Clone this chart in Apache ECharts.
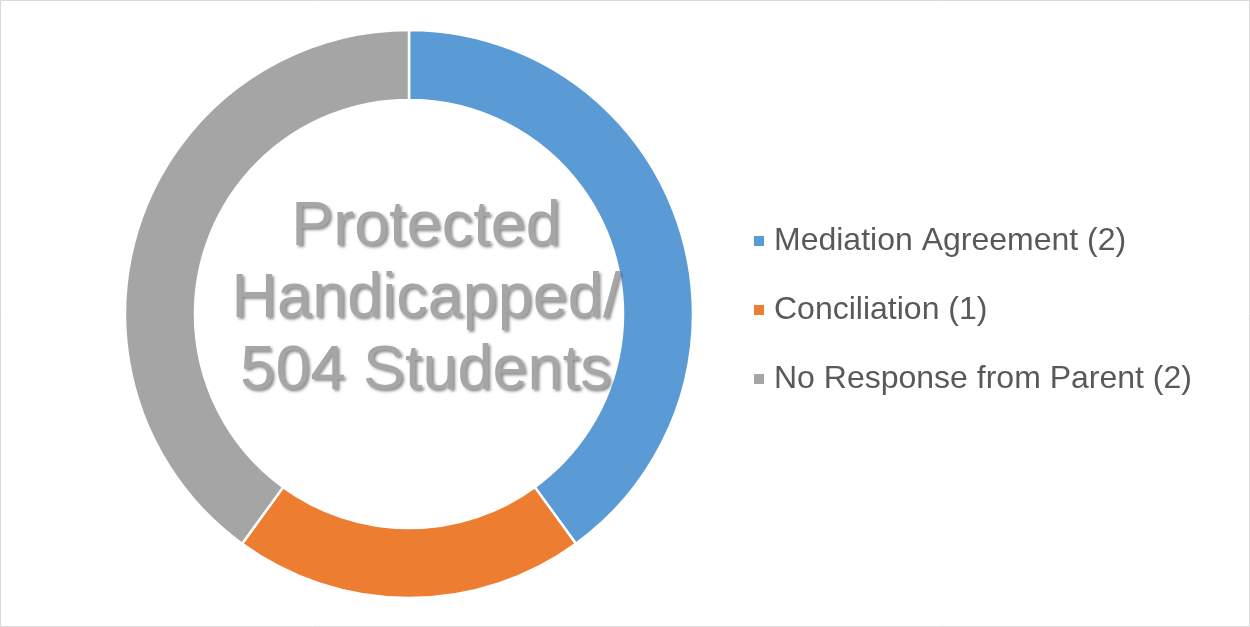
<!DOCTYPE html>
<html>
<head>
<meta charset="utf-8">
<script src="https://cdn.jsdelivr.net/npm/echarts@6/dist/echarts.min.js"></script>
<style>
  html, body { margin: 0; padding: 0; background: #fff; }
  #chart { width: 1250px; height: 627px; }
</style>
</head>
<body>
<div id="chart"></div>
<script>
// slice names and counts
var categories = ["Mediation Agreement (2)", "Conciliation (1)", "No Response from Parent (2)"];
var counts = [2, 1, 2];
var sliceColors = ["#5b9bd5", "#ed7d31", "#a5a5a5"];
var centerLabel = "Protected\nHandicapped/\n504 Students";

var chart = echarts.init(document.getElementById("chart"));

chart.setOption({
  animation: false,
  backgroundColor: "#fff",
  legend: {
    orient: "vertical",
    left: 752,
    top: 224,
    padding: 0,
    itemWidth: 12,
    itemHeight: 12,
    itemGap: 35,
    icon: "rect",
    textStyle: {
      fontFamily: "Liberation Sans",
      fontSize: 32,
      lineHeight: 34,
      color: "#595959",
      padding: [0, 0, 0, 4]
    },
    data: categories
  },
  graphic: [
    {
      type: "rect",
      shape: { x: 0.5, y: 0.5, width: 1249, height: 626 },
      style: { fill: "none", stroke: "#d9d9d9", lineWidth: 1 },
      silent: true
    },
    {
      type: "text",
      x: 426,
      y: 300,
      z: 10,
      style: {
        text: centerLabel,
        font: '63px "Liberation Sans"',
        fill: "#a6a6a6",
        align: "center",
        verticalAlign: "middle",
        lineHeight: 72,
        textShadowColor: "rgba(80,80,80,0.65)",
        textShadowOffsetX: 2,
        textShadowOffsetY: 2,
        textShadowBlur: 3
      }
    }
  ],
  series: [
    {
      type: "pie",
      center: [409, 314],
      radius: [214, 284],
      startAngle: 90,
      clockwise: true,
      label: { show: false },
      labelLine: { show: false },
      emphasis: { disabled: true },
      itemStyle: { borderColor: "#fff", borderWidth: 2.5 },
      data: categories.map(function (name, i) {
        return { name: name, value: counts[i], itemStyle: { color: sliceColors[i] } };
      })
    }
  ]
});
</script>
</body>
</html>
